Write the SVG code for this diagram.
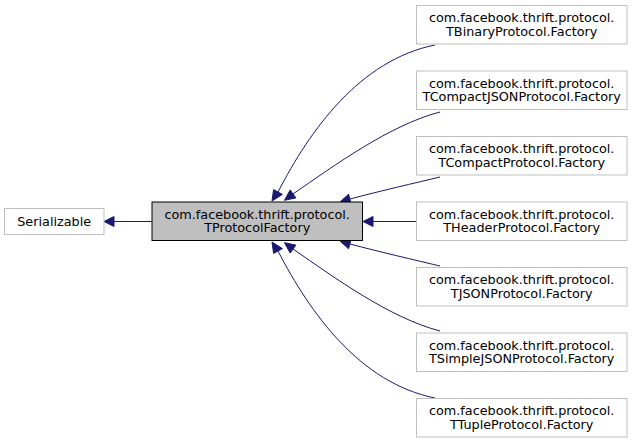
<svg xmlns="http://www.w3.org/2000/svg" width="639" height="444" viewBox="0 0 639 444">
<style>
.n rect{fill:#ffffff;stroke:#bfbfbf;stroke-width:1}
.n.main rect{fill:#bfbfbf;stroke:#000000}
text{font-family:"DejaVu Sans","Liberation Sans",sans-serif;font-size:12.8px;fill:#000000;text-anchor:middle}
.e path{fill:none;stroke:#191970;stroke-width:1}
.e polygon{fill:#191970;stroke:#191970;stroke-width:1}
</style>
<rect width="639" height="444" fill="#ffffff"/>
<g id="connectors" class="e">
<path d="M152,221.5 L114,221.5"/>
<polygon points="114,216.5 104,221.5 114,226.5"/>
<path d="M435,45 C360,60 310,130 278,192"/>
<polygon points="273.6,189.6 272,201 282.4,194.4"/>
<path d="M440,112 C390,125 335,165 293,194"/>
<polygon points="290.2,189.9 284.5,200.3 295.9,197.9"/>
<path d="M440,177 C415,183 380,191 350,199"/>
<polygon points="348.6,194.2 340,202 351.1,203.9"/>
<path d="M416.5,221.5 L373,221.5"/>
<polygon points="373,216.5 363,221.5 373,226.5"/>
<path d="M440,266 C415,260 380,252 350,244"/>
<polygon points="351.1,239.1 340,241 348.6,248.8"/>
<path d="M440,331 C390,318 335,278 293,249"/>
<polygon points="295.9,245.1 284.5,242.7 290.2,253.1"/>
<path d="M435,398 C360,383 310,313 278,251"/>
<polygon points="282.4,248.6 272,242 273.6,253.4"/>
</g>
<g id="node-serializable" class="n">
<rect x="4.5" y="208.5" width="99.5" height="26"/>
<text x="54.2" y="226">Serializable</text>
</g>
<g id="node-tprotocolfactory" class="n main">
<rect x="152" y="202" width="210.5" height="38.5"/>
<text x="257.2" y="218.5">com.facebook.thrift.protocol.</text>
<text x="257.2" y="232">TProtocolFactory</text>
</g>
<g id="node-tbinary" class="n">
<rect x="416.5" y="5.5" width="210.5" height="38.5"/>
<text x="521.7" y="22.3">com.facebook.thrift.protocol.</text>
<text x="521.7" y="35.8">TBinaryProtocol.Factory</text>
</g>
<g id="node-tcompactjson" class="n">
<rect x="416.5" y="71" width="210.5" height="38.5"/>
<text x="521.7" y="87.8">com.facebook.thrift.protocol.</text>
<text x="521.7" y="101.3">TCompactJSONProtocol.Factory</text>
</g>
<g id="node-tcompact" class="n">
<rect x="416.5" y="136.5" width="210.5" height="38.5"/>
<text x="521.7" y="153.3">com.facebook.thrift.protocol.</text>
<text x="521.7" y="166.8">TCompactProtocol.Factory</text>
</g>
<g id="node-theader" class="n">
<rect x="416.5" y="202" width="210.5" height="38.5"/>
<text x="521.7" y="218.8">com.facebook.thrift.protocol.</text>
<text x="521.7" y="232.3">THeaderProtocol.Factory</text>
</g>
<g id="node-tjson" class="n">
<rect x="416.5" y="267.5" width="210.5" height="38.5"/>
<text x="521.7" y="284.3">com.facebook.thrift.protocol.</text>
<text x="521.7" y="297.8">TJSONProtocol.Factory</text>
</g>
<g id="node-tsimplejson" class="n">
<rect x="416.5" y="333" width="210.5" height="38.5"/>
<text x="521.7" y="349.8">com.facebook.thrift.protocol.</text>
<text x="521.7" y="363.3">TSimpleJSONProtocol.Factory</text>
</g>
<g id="node-ttuple" class="n">
<rect x="416.5" y="398.5" width="210.5" height="38.5"/>
<text x="521.7" y="415.3">com.facebook.thrift.protocol.</text>
<text x="521.7" y="428.8">TTupleProtocol.Factory</text>
</g>
</svg>
